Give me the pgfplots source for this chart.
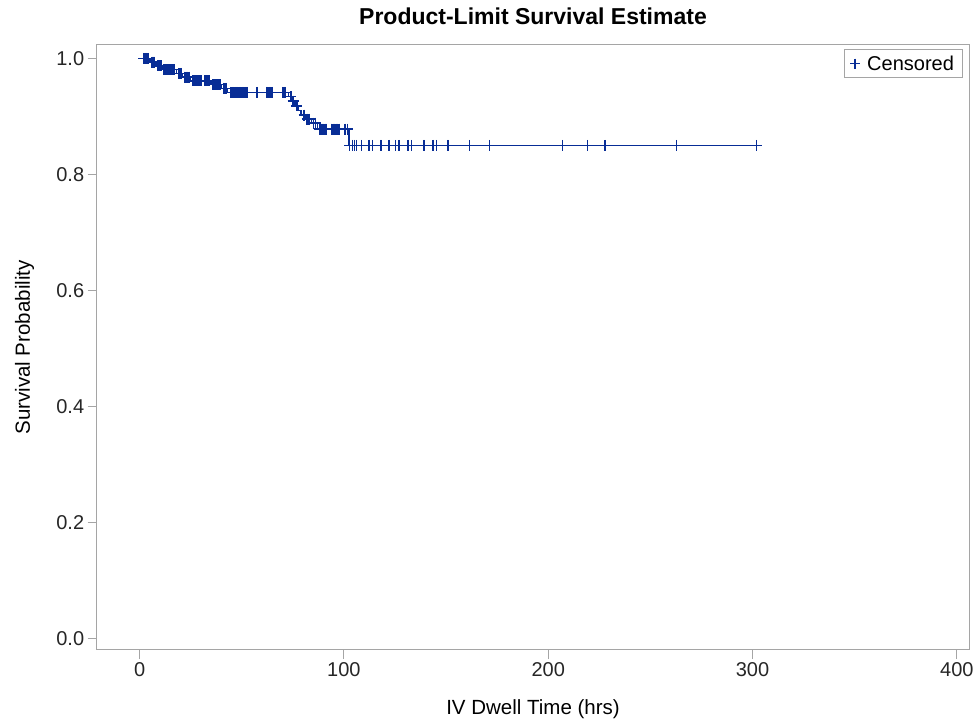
\documentclass[border=0pt]{standalone}
\usepackage{fontspec}
\setmainfont{Liberation Sans}
\usepackage{pgfplots}
\pgfplotsset{compat=1.18}
\definecolor{kmblue}{RGB}{8,45,150}
\definecolor{framegray}{RGB}{165,165,165}
\begin{document}
\begin{tikzpicture}
\begin{axis}[
  scale only axis, width=872.6pt, height=605pt,
  xmin=-21.0, xmax=406.1, ymin=-0.0202, ymax=1.0229,
  xtick={0,100,200,300,400}, ytick={0,0.2,0.4,0.6,0.8,1.0},
  yticklabel style={/pgf/number format/fixed, /pgf/number format/fixed zerofill, /pgf/number format/precision=1},
  /pgf/number format/assume math mode=true,
  tick label style={font=\fontsize{20}{24}\selectfont, text=black!85},
  tick pos=left, tick align=outside, major tick length=9pt,
  tick style={framegray, line width=1pt},
  axis line style={framegray, line width=1pt},
  title={Product-Limit Survival Estimate},
  title style={font=\fontsize{23}{27}\selectfont\bfseries, at={(axis description cs:0.5,1.02314)}, anchor=base},
  xlabel={IV Dwell Time (hrs)}, ylabel={Survival Probability},
  xlabel style={font=\fontsize{20.5}{24}\selectfont, at={(axis description cs:0.5,-0.10744)}, anchor=base},
  ylabel style={font=\fontsize{20.5}{24}\selectfont, at={(axis description cs:-0.07644,0.5)}, anchor=base},
  legend style={at={(axis description cs:0.992,0.993)}, anchor=north east, draw=framegray, line width=0.8pt,
    font=\fontsize{20}{24}\selectfont, inner xsep=6pt, inner ysep=4pt},
  legend image post style={line width=1pt, mark size=5pt},
  legend cell align=left,
]
\addplot[const plot, kmblue, line width=1.4pt, forget plot] coordinates {
 (0,1.0) (5,0.9935) (8,0.987) (11,0.9805) (18,0.974) (21,0.9675) (25,0.961)
 (35,0.9545) (40,0.948) (43,0.941) (73,0.934) (74.5,0.926) (76,0.918) (77.5,0.910)
 (79,0.902) (81,0.895) (84,0.888) (87,0.878) (102.5,0.850) (302,0.850)
};
\addplot[only marks, mark=+, mark size=5.5pt, kmblue, mark options={line width=1.5pt}] coordinates {
 (2,1) (2.7,1) (3.4,1) (4.1,1) (6,0.9935) (6.7,0.9935) (7.4,0.9935) (9,0.987) (9.7,0.987) (10.4,0.987)
 (12,0.9805) (12.7,0.9805) (13.4,0.9805) (14.1,0.9805) (14.8,0.9805) (15.5,0.9805) (16.2,0.9805) (16.9,0.9805)
 (19,0.974) (19.7,0.974) (20.4,0.974) (22,0.9675) (22.7,0.9675) (23.4,0.9675) (24.1,0.9675)
 (26,0.961) (26.7,0.961) (27.4,0.961) (28.1,0.961) (28.8,0.961) (29.5,0.961) (30.2,0.961)
 (32,0.961) (32.7,0.961) (33.4,0.961) (34.1,0.961)
 (36,0.9545) (36.7,0.9545) (37.4,0.9545) (38.1,0.9545) (38.8,0.9545) (39.5,0.9545)
 (41,0.948) (41.7,0.948) (42.4,0.948)
 (44.5,0.941) (45.2,0.941) (45.9,0.941) (46.6,0.941) (47.3,0.941) (48,0.941) (48.7,0.941) (49.4,0.941)
 (50.1,0.941) (50.8,0.941) (51.5,0.941) (52.2,0.941) (52.9,0.941)
 (57.5,0.941) (62,0.941) (62.7,0.941) (63.4,0.941) (64.1,0.941) (64.8,0.941) (70,0.941) (70.7,0.941) (71.4,0.941)
 (74,0.934) (75.2,0.926) (77,0.918) (80.5,0.902) (82,0.895) (83,0.895) (85,0.888) (86.2,0.888)
 (88,0.878) (88.7,0.878) (89.4,0.878) (90.1,0.878) (90.8,0.878) (91.5,0.878)
 (94,0.878) (94.7,0.878) (95.4,0.878) (96.1,0.878) (96.8,0.878) (97.5,0.878)
 (100.5,0.878) (101.7,0.878)
 (102.8,0.85) (104.2,0.85) (105.3,0.85) (106.1,0.85) (108.6,0.85) (112.3,0.85) (113.9,0.85)
 (117.8,0.85) (118.3,0.85) (122.0,0.85) (125.3,0.85) (126.9,0.85) (131.3,0.85) (133.0,0.85)
 (139.0,0.85) (139.5,0.85) (143.5,0.85) (145.2,0.85) (150.8,0.85) (151.3,0.85) (161.4,0.85)
 (171.2,0.85) (207.0,0.85) (219.2,0.85) (227.7,0.85) (262.9,0.85) (302.0,0.85)
};
\addlegendentry{\hspace{5pt}Censored}
\end{axis}
\pgfresetboundingbox
\path[use as bounding box] ([shift={(-96.7pt,-69pt)}]current axis.south west) rectangle ([shift={(6.7pt,45pt)}]current axis.north east);
\end{tikzpicture}
\end{document}
